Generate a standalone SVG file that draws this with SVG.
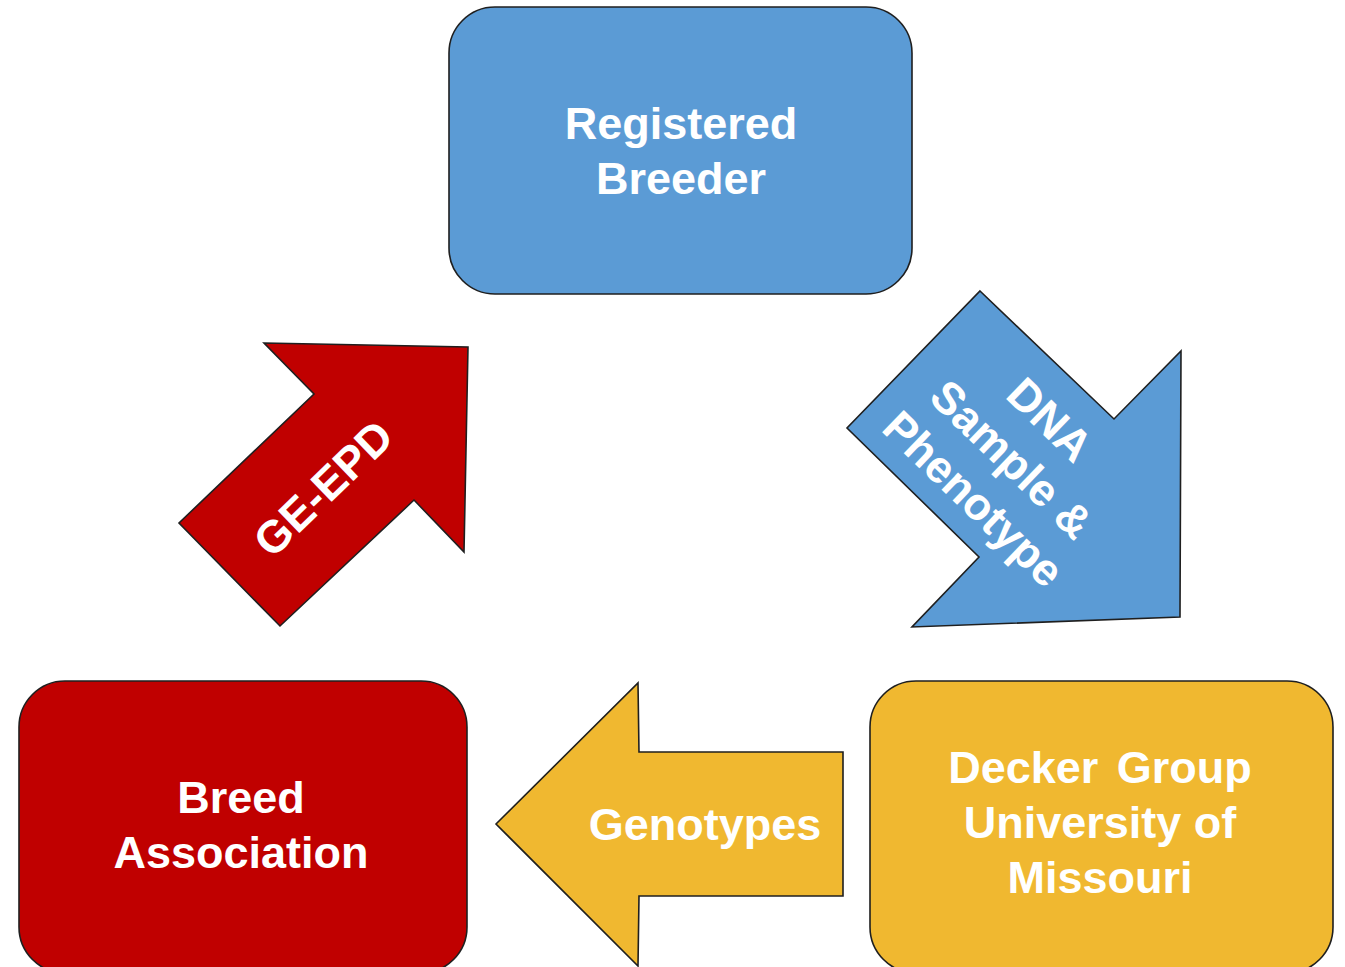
<svg xmlns="http://www.w3.org/2000/svg" width="1345" height="967" viewBox="0 0 1345 967">
  <style>
    .box { stroke: #1f1f1f; stroke-width: 1.6; }
    .arrow { stroke: #1f1f1f; stroke-width: 1.6; stroke-linejoin: miter; }
    .lbl { font-family: "Liberation Sans", Arial, sans-serif; font-weight: bold; font-size: 45px; fill: #ffffff; text-anchor: middle; }
    .blue { fill: #5B9BD5; }
    .red { fill: #C00000; }
    .yellow { fill: #F0B830; }
  </style>
  <rect width="1345" height="967" fill="#ffffff"/>
  <g id="node-registered-breeder">
    <rect class="box blue" x="449" y="7" width="463" height="287" rx="46" ry="46"/>
    <text class="lbl" x="681" y="139">Registered</text>
    <text class="lbl" x="681" y="194">Breeder</text>
  </g>
  <g id="node-decker-group">
    <rect class="box yellow" x="870" y="681" width="463" height="292" rx="46" ry="46"/>
    <text class="lbl" x="1100" y="783" word-spacing="6">Decker Group</text>
    <text class="lbl" x="1100" y="838">University of</text>
    <text class="lbl" x="1100" y="893">Missouri</text>
  </g>
  <g id="node-breed-association">
    <rect class="box red" x="19" y="681" width="448" height="292" rx="46" ry="46"/>
    <text class="lbl" x="241" y="813">Breed</text>
    <text class="lbl" x="241" y="868">Association</text>
  </g>
  <g id="connectors">
    <g id="arrow-dna">
      <polygon class="arrow blue" points="980,291 1114,419 1181,351 1180,617 912,627 979,557 847,428"/>
      <g transform="translate(1012,459) rotate(44)">
        <text class="lbl" x="0" y="-39">DNA</text>
        <text class="lbl" x="0" y="16">Sample &amp;</text>
        <text class="lbl" x="0" y="71">Phenotype</text>
      </g>
    </g>
    <g id="arrow-genotypes">
      <polygon class="arrow yellow" points="496,824 638,683 639,752 843,752 843,896 639,896 638,966"/>
      <text class="lbl" x="705" y="840">Genotypes</text>
    </g>
    <g id="arrow-ge-epd">
      <polygon class="arrow red" points="264,343 468,347 464,552 414,500 280,626 179,523 314,394"/>
      <g transform="translate(323,488) rotate(-44)">
        <text class="lbl" x="0" y="16">GE-EPD</text>
      </g>
    </g>
  </g>
</svg>
